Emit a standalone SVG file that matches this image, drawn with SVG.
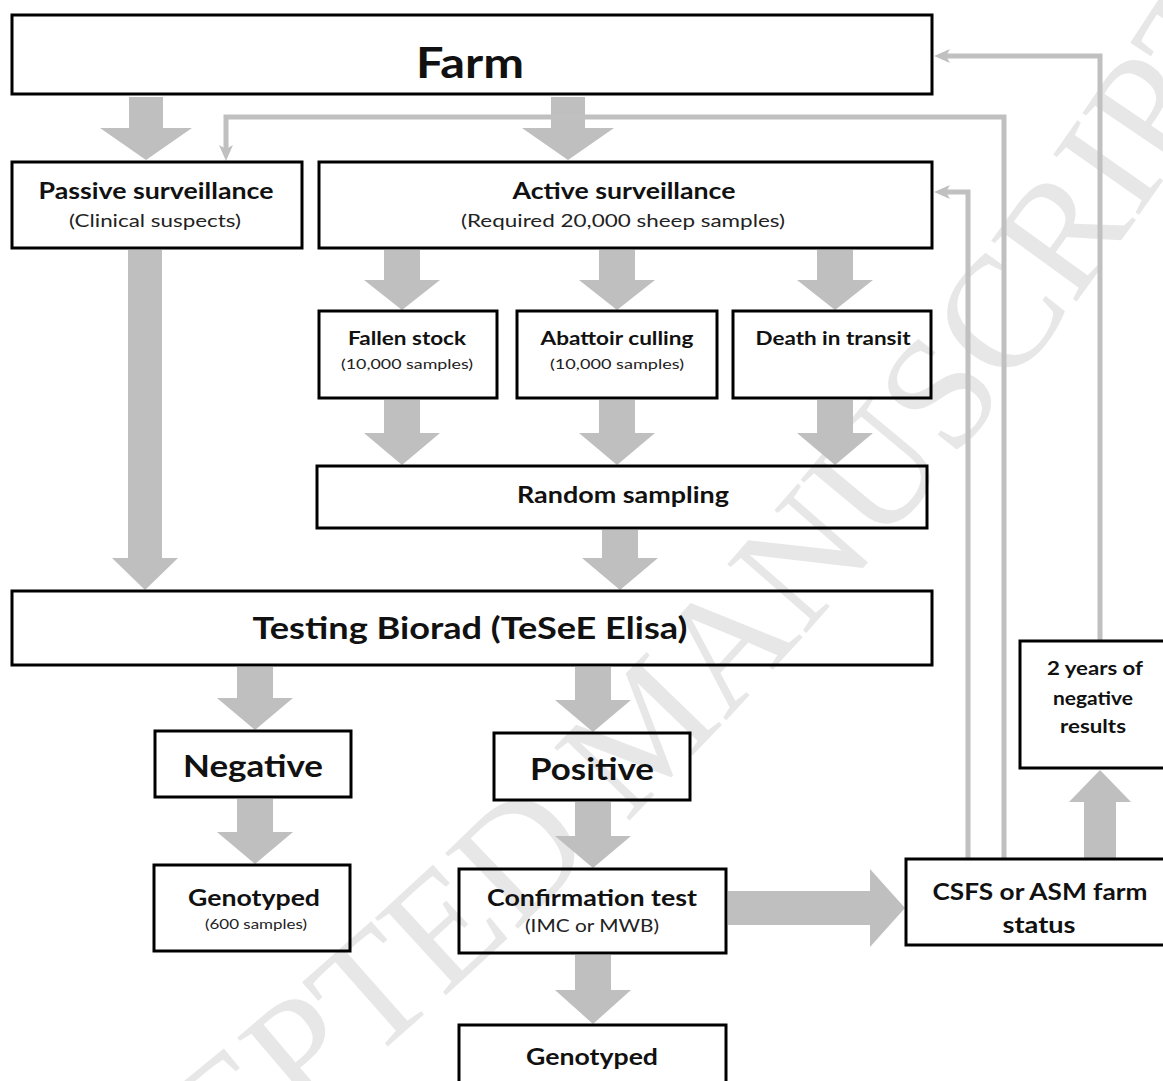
<svg xmlns="http://www.w3.org/2000/svg" width="1163" height="1081" viewBox="0 0 1163 1081">
<defs>
<style>
.box{fill:none;stroke:#000;stroke-width:3}
.arr{fill:#bfbfbf;stroke:none}
.ln{fill:none;stroke:#c0c0c0;stroke-width:5}
.t{font-family:Lato,"Open Sans","Liberation Sans",sans-serif;font-weight:bold;fill:#111;text-anchor:middle}
.s{font-family:Lato,"Open Sans","Liberation Sans",sans-serif;font-weight:normal;fill:#222;text-anchor:middle}
.wm{font-family:"Liberation Serif","DejaVu Serif",serif;font-size:160px;fill:#e7e7e7}
</style>
<marker id="ah" markerUnits="userSpaceOnUse" markerWidth="18" markerHeight="14" refX="8" refY="7" orient="auto">
<path d="M0,0 L16,7 L0,14 L4,7 z" fill="#c0c0c0"/>
</marker>
<path id="wmpath" d="M -133,1427 L 167,1217 Q 846,742 1324,72"/>
</defs>
<rect width="1163" height="1081" fill="#fff"/>
<text class="wm" transform="rotate(-3 250 1040)"><textPath href="#wmpath" startOffset="100">ACCEPTED MANUSCRIPT</textPath></text>

<g id="connectors">
<polygon class="arr" points="129,97 163,97 163,128 192,128 146,160 100,128 129,128"/>
<polygon class="arr" points="551,97 585,97 585,128 614,128 568,160 522,128 551,128"/>
<polygon class="arr" points="384,250 420,250 420,280 440,280 402,310 364,280 384,280"/>
<polygon class="arr" points="599,250 635,250 635,280 655,280 617,310 579,280 599,280"/>
<polygon class="arr" points="817,250 853,250 853,280 873,280 835,310 797,280 817,280"/>
<polygon class="arr" points="384,400 420,400 420,433 440,433 402,465 364,433 384,433"/>
<polygon class="arr" points="599,400 635,400 635,433 655,433 617,465 579,433 599,433"/>
<polygon class="arr" points="817,400 853,400 853,433 873,433 835,465 797,433 817,433"/>
<polygon class="arr" points="602,530 638,530 638,558 658,558 620,590 582,558 602,558"/>
<polygon class="arr" points="128,250 162,250 162,558 178,558 145,590 112,558 128,558"/>
<polygon class="arr" points="237,667 273,667 273,698 293,698 255,730 217,698 237,698"/>
<polygon class="arr" points="575,667 611,667 611,700 631,700 593,732 555,700 575,700"/>
<polygon class="arr" points="237,799 273,799 273,832 293,832 255,864 217,832 237,832"/>
<polygon class="arr" points="575,802 611,802 611,836 631,836 593,868 555,836 575,836"/>
<polygon class="arr" points="575,955 611,955 611,990 631,990 593,1024 555,990 575,990"/>
<polygon class="arr" points="728,891 870,891 870,869 905,908 870,947 870,925 728,925"/>
<polygon class="arr" points="1084,858 1116,858 1116,802 1131,802 1100,770 1069,802 1084,802"/>
<path class="ln" d="M1004,858 V117 H226 V153" marker-end="url(#ah)"/>
<path class="ln" d="M968,858 V192 H942" marker-end="url(#ah)"/>
<path class="ln" d="M1100,640 V56 H942" marker-end="url(#ah)"/>
</g>

<g id="farm">
<rect class="box" x="12" y="15" width="920" height="79"/>
<text class="t" x="470" y="78" font-size="42" textLength="108" lengthAdjust="spacingAndGlyphs">Farm</text>
</g>
<g id="passive">
<rect class="box" x="12" y="162" width="290" height="86"/>
<text class="t" x="156" y="199" font-size="23" textLength="235" lengthAdjust="spacingAndGlyphs">Passive surveillance</text>
<text class="s" x="155" y="227" font-size="18" textLength="172" lengthAdjust="spacingAndGlyphs">(Clinical suspects)</text>
</g>
<g id="active">
<rect class="box" x="319" y="162" width="613" height="86"/>
<text class="t" x="624" y="199" font-size="23" textLength="223" lengthAdjust="spacingAndGlyphs">Active surveillance</text>
<text class="s" x="623" y="227" font-size="18" textLength="324" lengthAdjust="spacingAndGlyphs">(Required 20,000 sheep samples)</text>
</g>
<g id="fallen">
<rect class="box" x="319" y="311" width="178" height="87"/>
<text class="t" x="407" y="345" font-size="19" textLength="118" lengthAdjust="spacingAndGlyphs">Fallen stock</text>
<text class="s" x="407" y="369" font-size="14" textLength="132" lengthAdjust="spacingAndGlyphs">(10,000 samples)</text>
</g>
<g id="abattoir">
<rect class="box" x="517" y="311" width="200" height="87"/>
<text class="t" x="617" y="345" font-size="19" textLength="153" lengthAdjust="spacingAndGlyphs">Abattoir culling</text>
<text class="s" x="617" y="369" font-size="14" textLength="134" lengthAdjust="spacingAndGlyphs">(10,000 samples)</text>
</g>
<g id="death">
<rect class="box" x="733" y="311" width="198" height="87"/>
<text class="t" x="833" y="345" font-size="19" textLength="155" lengthAdjust="spacingAndGlyphs">Death in transit</text>
</g>
<g id="random">
<rect class="box" x="317" y="466" width="610" height="62"/>
<text class="t" x="623" y="503" font-size="23" textLength="212" lengthAdjust="spacingAndGlyphs">Random sampling</text>
</g>
<g id="testing">
<rect class="box" x="12" y="591" width="920" height="74"/>
<text class="t" x="470" y="639" font-size="31" textLength="435" lengthAdjust="spacingAndGlyphs">Testing Biorad (TeSeE Elisa)</text>
</g>
<g id="negative">
<rect class="box" x="155" y="731" width="196" height="66"/>
<text class="t" x="253" y="777" font-size="31" textLength="140" lengthAdjust="spacingAndGlyphs">Negative</text>
</g>
<g id="positive">
<rect class="box" x="494" y="733" width="196" height="67"/>
<text class="t" x="592" y="780" font-size="31" textLength="124" lengthAdjust="spacingAndGlyphs">Positive</text>
</g>
<g id="genotyped-neg">
<rect class="box" x="154" y="865" width="196" height="86"/>
<text class="t" x="254" y="906" font-size="23" textLength="132" lengthAdjust="spacingAndGlyphs">Genotyped</text>
<text class="s" x="256" y="929" font-size="13" textLength="102" lengthAdjust="spacingAndGlyphs">(600 samples)</text>
</g>
<g id="confirmation">
<rect class="box" x="459" y="869" width="267" height="84"/>
<text class="t" x="592" y="906" font-size="23" textLength="210" lengthAdjust="spacingAndGlyphs">Confirmation test</text>
<text class="s" x="592" y="932" font-size="18" textLength="134" lengthAdjust="spacingAndGlyphs">(IMC or MWB)</text>
</g>
<g id="genotyped-pos">
<rect class="box" x="459" y="1025" width="267" height="70"/>
<text class="t" x="592" y="1065" font-size="23" textLength="132" lengthAdjust="spacingAndGlyphs">Genotyped</text>
</g>
<g id="csfs">
<rect class="box" x="906" y="859" width="280" height="86"/>
<text class="t" x="1040" y="900" font-size="23" textLength="215" lengthAdjust="spacingAndGlyphs">CSFS or ASM farm</text>
<text class="t" x="1039" y="933" font-size="23" textLength="73" lengthAdjust="spacingAndGlyphs">status</text>
</g>
<g id="two-years">
<rect class="box" x="1020" y="641" width="170" height="127"/>
<text class="t" x="1095" y="675" font-size="19" textLength="96" lengthAdjust="spacingAndGlyphs">2 years of</text>
<text class="t" x="1093" y="705" font-size="19" textLength="80" lengthAdjust="spacingAndGlyphs">negative</text>
<text class="t" x="1093" y="733" font-size="19" textLength="66" lengthAdjust="spacingAndGlyphs">results</text>
</g>
</svg>
